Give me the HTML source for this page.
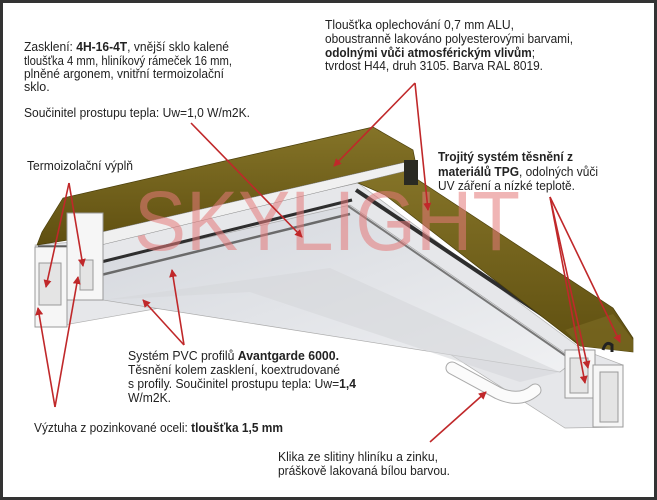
<!DOCTYPE html>
<html><head><meta charset="utf-8"><style>
html,body{margin:0;padding:0;background:#fff}
svg{display:block}
text{font-family:"Liberation Sans",sans-serif;font-size:12.5px;fill:#222}
.b{font-weight:bold}
</style></head><body>
<svg width="657" height="500" viewBox="0 0 657 500" xmlns="http://www.w3.org/2000/svg">
<defs>
<linearGradient id="ol" x1="0" y1="0" x2="0" y2="1"><stop offset="0" stop-color="#857428"/><stop offset="1" stop-color="#5f4f10"/></linearGradient>
<linearGradient id="gl" x1="0" y1="0" x2="1" y2="1"><stop offset="0" stop-color="#d3d6dc"/><stop offset="1" stop-color="#f0f1f3"/></linearGradient>
<marker id="ah" markerWidth="8" markerHeight="8" refX="7" refY="4" orient="auto" markerUnits="userSpaceOnUse"><path d="M0,0 L8,4 L0,8 z" fill="#c0282a"/></marker>
</defs>
<rect x="1.5" y="1.5" width="654" height="497" fill="#fff" stroke="#333" stroke-width="3"/>
<polygon points="35,245 101,240 358,183 583,350 623,365 623,427 565,428 420,335 250,292 53,327" fill="#e6e7ea" stroke="#b0b0b0" stroke-width="0.7"/>
<polygon points="101,262 350,205 575,360 560,372 103,300" fill="url(#gl)" stroke="#aaa" stroke-width="0.7"/>
<polygon points="103,300 330,268 560,372 520,382 250,292" fill="#d6d7da" opacity="0.6"/>
<line x1="101" y1="262" x2="352" y2="200" stroke="#2e2e2e" stroke-width="3"/>
<line x1="101" y1="275" x2="350" y2="214" stroke="#6a6a6a" stroke-width="2.5"/>
<line x1="356" y1="190" x2="580" y2="340" stroke="#2e2e2e" stroke-width="4"/>
<line x1="348" y1="206" x2="566" y2="356" stroke="#777" stroke-width="2"/>
<polygon points="358,183 400,168 613,308 633,338 633,352 580,346 385,195" fill="url(#ol)" stroke="#4a3e0a" stroke-width="0.7"/>
<polygon points="565,330 613,314 633,340 633,352 580,346" fill="#7a6a22" opacity="0.7"/>
<polygon points="37,245 42,232 63,198 373,127 413,150 415,160 102,232 68,240" fill="url(#ol)" stroke="#4a3e0a" stroke-width="0.7"/>
<polygon points="102,232 415,160 410,170 101,245" fill="#f0f0f0" stroke="#888" stroke-width="0.5"/>
<rect x="404" y="160" width="14" height="25" fill="#2a2a22"/>
<line x1="38" y1="247" x2="100" y2="247" stroke="#222" stroke-width="3"/>
<rect x="35" y="247" width="32" height="80" fill="#f6f6f6" stroke="#999"/>
<rect x="67" y="213" width="36" height="87" fill="#f6f6f6" stroke="#999"/>
<rect x="39" y="263" width="22" height="42" fill="#e4e4e4" stroke="#999"/>
<rect x="80" y="260" width="13" height="30" fill="#e4e4e4" stroke="#999"/>
<rect x="565" y="350" width="30" height="48" fill="#f6f6f6" stroke="#999"/>
<rect x="593" y="365" width="30" height="62" fill="#f6f6f6" stroke="#999"/>
<rect x="600" y="372" width="18" height="50" fill="#e4e4e4" stroke="#999"/>
<rect x="570" y="358" width="18" height="35" fill="#e4e4e4" stroke="#999"/>
<path d="M603,350 Q606,340 612,345 L612,352" fill="none" stroke="#222" stroke-width="3"/>
<path d="M452,368 L498,393 Q520,403 535,390" fill="none" stroke="#aaa" stroke-width="13" stroke-linecap="round"/>
<path d="M452,368 L498,393 Q520,403 535,390" fill="none" stroke="#fbfbfb" stroke-width="11" stroke-linecap="round"/>
<text x="134" y="250" textLength="386" lengthAdjust="spacingAndGlyphs" style="font-size:84px;fill:#e57a7a;opacity:0.55">SKYLIGHT</text>
<g stroke="#c0282a" stroke-width="1.6" fill="none" marker-end="url(#ah)">
<line x1="415" y1="83" x2="334" y2="166"/><line x1="415" y1="83" x2="428" y2="210"/>
<line x1="191" y1="123" x2="302" y2="237"/>
<line x1="69" y1="183" x2="46" y2="287"/><line x1="69" y1="183" x2="83" y2="266"/>
<line x1="550" y1="197" x2="585" y2="383"/><line x1="550" y1="197" x2="588" y2="368"/><line x1="550" y1="197" x2="620" y2="342"/>
<line x1="55" y1="407" x2="38" y2="308"/><line x1="55" y1="407" x2="78" y2="277"/>
<line x1="184" y1="345" x2="143" y2="300"/><line x1="184" y1="345" x2="172" y2="270"/>
<line x1="430" y1="442" x2="486" y2="392"/>
</g>
<text x="24" y="51" textLength="205" lengthAdjust="spacingAndGlyphs">Zasklení: <tspan class="b">4H-16-4T</tspan>, vnější sklo kalené</text>
<text x="24" y="65" textLength="208" lengthAdjust="spacingAndGlyphs">tloušťka 4 mm, hliníkový rámeček 16 mm,</text>
<text x="24" y="78" textLength="200" lengthAdjust="spacingAndGlyphs">plněné argonem, vnitřní termoizolační</text>
<text x="24" y="91">sklo.</text>
<text x="24" y="117" textLength="226" lengthAdjust="spacingAndGlyphs">Součinitel prostupu tepla: Uw=1,0 W/m2K.</text>
<text x="325" y="29" textLength="189" lengthAdjust="spacingAndGlyphs">Tloušťka oplechování 0,7 mm ALU,</text>
<text x="325" y="43" textLength="248" lengthAdjust="spacingAndGlyphs">oboustranně lakováno polyesterovými barvami,</text>
<text x="325" y="57" textLength="210" lengthAdjust="spacingAndGlyphs" class="b">odolnými vůči atmosférickým vlivům<tspan style="font-weight:normal">;</tspan></text>
<text x="325" y="70" textLength="218" lengthAdjust="spacingAndGlyphs">tvrdost H44, druh 3105. Barva RAL 8019.</text>
<text x="438" y="161" textLength="135" lengthAdjust="spacingAndGlyphs" class="b">Trojitý systém těsnění z</text>
<text x="438" y="176" textLength="160" lengthAdjust="spacingAndGlyphs"><tspan class="b">materiálů TPG</tspan>, odolných vůči</text>
<text x="438" y="190" textLength="137" lengthAdjust="spacingAndGlyphs">UV záření a nízké teplotě.</text>
<text x="27" y="170" textLength="106" lengthAdjust="spacingAndGlyphs">Termoizolační výplň</text>
<text x="128" y="360" textLength="211" lengthAdjust="spacingAndGlyphs">Systém PVC profilů <tspan class="b">Avantgarde 6000.</tspan></text>
<text x="128" y="374" textLength="212" lengthAdjust="spacingAndGlyphs">Těsnění kolem zasklení, koextrudované</text>
<text x="128" y="388" textLength="228" lengthAdjust="spacingAndGlyphs">s profily. Součinitel prostupu tepla: Uw=<tspan class="b">1,4</tspan></text>
<text x="128" y="402" textLength="43" lengthAdjust="spacingAndGlyphs">W/m2K.</text>
<text x="34" y="432" textLength="249" lengthAdjust="spacingAndGlyphs">Výztuha z pozinkované oceli: <tspan class="b">tloušťka 1,5 mm</tspan></text>
<text x="278" y="461" textLength="160" lengthAdjust="spacingAndGlyphs">Klika ze slitiny hliníku a zinku,</text>
<text x="278" y="475" textLength="172" lengthAdjust="spacingAndGlyphs">práškově lakovaná bílou barvou.</text>
</svg>
</body></html>
